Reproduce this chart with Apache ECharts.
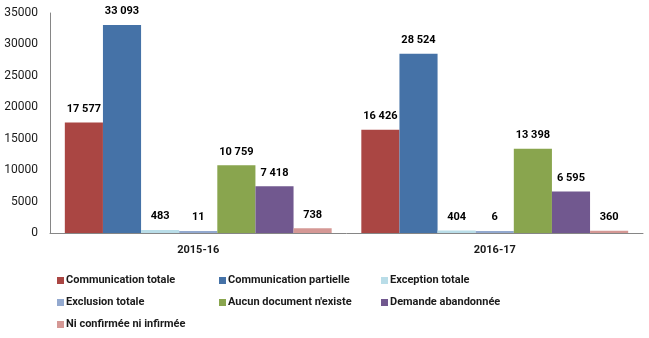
<!DOCTYPE html>
<html>
<head>
<meta charset="utf-8">
<script src="https://cdn.jsdelivr.net/npm/echarts@6/dist/echarts.min.js"></script>
<style>
  html, body { margin: 0; padding: 0; background: #ffffff; }
  #chart { width: 649px; height: 338px; }
</style>
</head>
<body>
<div id="chart"></div>
<script>
// Fiscal years shown on the category axis
const categories = ['2015-16', '2016-17'];

// Request outcomes, one value per fiscal year
const seriesNames = [
  'Communication totale',
  'Communication partielle',
  'Exception totale',
  'Exclusion totale',
  "Aucun document n'existe",
  'Demande abandonnée',
  'Ni confirmée ni infirmée'
];
const communicationTotale = [17577, 16426];
const communicationPartielle = [33093, 28524];
const exceptionTotale = [483, 404];
const exclusionTotale = [11, 6];
const aucunDocument = [10759, 13398];
const demandeAbandonnee = [7418, 6595];
const niConfirmee = [738, 360];

const seriesValues = [
  communicationTotale, communicationPartielle, exceptionTotale,
  exclusionTotale, aucunDocument, demandeAbandonnee, niConfirmee
];
const colors = ['#AA4643', '#4572A7', '#B9DDE8', '#93A9CF', '#89A54E', '#71588F', '#D59895'];

const fontFamily = 'Roboto, "Open Sans", sans-serif';

// Thousands separated by a space, as in French notation
function fmt(v) {
  return String(v).replace(/\B(?=(\d{3})+(?!\d))/g, ' ');
}

// Legend laid out as a 3-column grid, one legend component per entry
const legendCols = [57, 219, 381];
const legendRows = [275, 297, 319];
const legends = seriesNames.map((name, i) => ({
  data: [name],
  left: legendCols[i % 3],
  top: legendRows[Math.floor(i / 3)],
  icon: 'rect',
  itemWidth: 7,
  itemHeight: 7,
  itemGap: 0,
  padding: 0,
  selectedMode: false,
  textStyle: { fontFamily, fontSize: 11, fontWeight: 'bold', color: '#1a1a1a', padding: [0, 0, 0, -3] }
}));

const chart = echarts.init(document.getElementById('chart'), null, { renderer: 'canvas' });
chart.setOption({
  animation: false,
  color: colors,
  legend: legends,
  grid: { left: 50, right: 6, top: 13, bottom: 105, containLabel: false },
  xAxis: {
    type: 'category',
    data: categories,
    axisLine: { lineStyle: { color: '#868686', width: 1 } },
    axisTick: { show: false },
    axisLabel: { fontFamily, fontSize: 11, fontWeight: 'bold', color: '#1a1a1a', margin: 12 }
  },
  yAxis: {
    type: 'value',
    min: 0,
    max: 35000,
    interval: 5000,
    axisLine: { show: true, lineStyle: { color: '#868686', width: 1 } },
    axisTick: { show: false },
    splitLine: { show: false },
    axisLabel: { fontFamily, fontSize: 12, color: '#1a1a1a', margin: 12, formatter: v => String(v) }
  },
  series: seriesNames.map((name, i) => ({
    name,
    type: 'bar',
    data: seriesValues[i],
    barGap: '0%',
    barCategoryGap: '10%',
    barMinHeight: 2,
    label: {
      show: true,
      position: 'top',
      distance: 8,
      fontFamily,
      fontSize: 11,
      fontWeight: 'bold',
      color: '#000000',
      formatter: p => fmt(p.value)
    }
  }))
});
</script>
</body>
</html>
